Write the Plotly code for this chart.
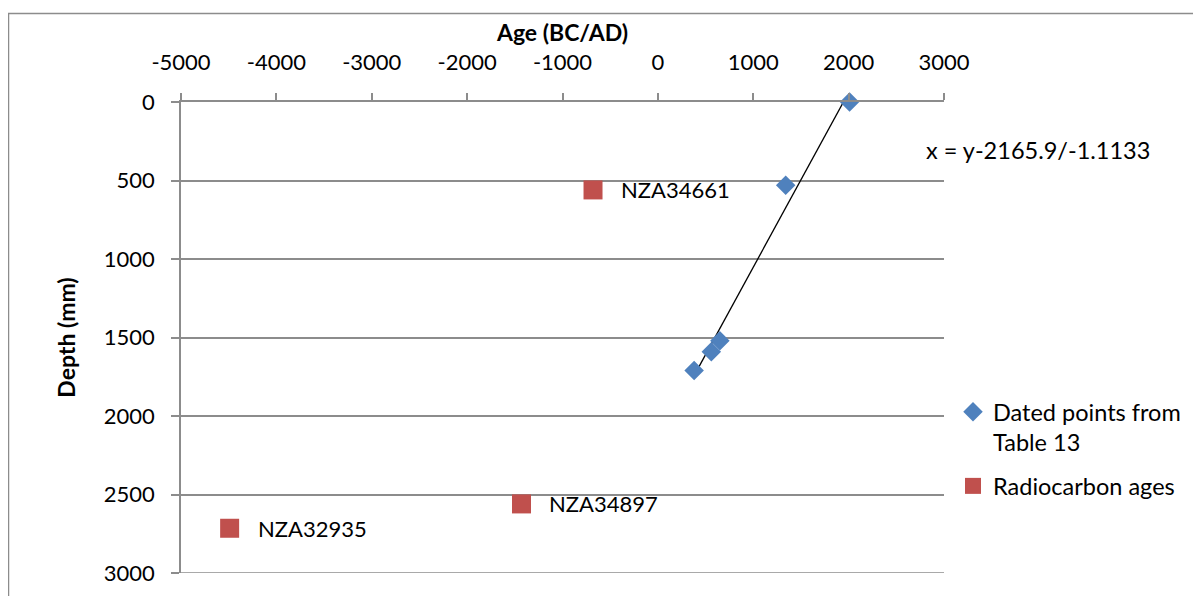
import plotly.graph_objects as go

# dated points (age BC/AD, depth mm)
dated_age = [2010, 1340, 650, 560, 380]
dated_depth = [0, 530, 1520, 1590, 1710]

# radiocarbon ages
rc_age = [-680, -1430, -4490]
rc_depth = [560, 2560, 2715]
rc_label = ["NZA34661", "NZA34897", "NZA32935"]

# trendline coefficients: depth = intercept + slope * age
intercept = 2165.9
slope = -1.1133

x_ticks = [-5000, -4000, -3000, -2000, -1000, 0, 1000, 2000, 3000]
y_ticks = [0, 500, 1000, 1500, 2000, 2500, 3000]

OFF = 8  # default body margin of the page
W, H = 1201 - OFF, 596 - OFF
L, R, T, B = 181 - OFF, 257, 102 - OFF, 23
pw, ph = W - L - R, H - T - B

# screen pixel -> paper coords
def px(x):
    return (x - OFF - L) / pw

def py(y):
    return (H + OFF - B - y) / ph

FONT = "Lato"
grey = "#8c8c8c"

fig = go.Figure()

tx = [min(dated_age), max(dated_age)]
fig.add_trace(go.Scatter(
    x=tx, y=[intercept + slope * a for a in tx],
    mode="lines", line=dict(color="black", width=1.3),
    showlegend=False, hoverinfo="skip"))

fig.add_trace(go.Scatter(
    x=dated_age, y=dated_depth, mode="markers",
    name="Dated points from<br>Table 13", legendgroup="dated",
    marker=dict(symbol="diamond", size=15, color="#4f81bd"),
    cliponaxis=False))

fig.add_trace(go.Scatter(
    x=rc_age, y=rc_depth, mode="markers",
    name="Radiocarbon ages", legendgroup="rc",
    marker=dict(symbol="square", size=19, color="#c0504d"),
    cliponaxis=False))

for a, d, t in zip(rc_age, rc_depth, rc_label):
    fig.add_annotation(x=a, y=d, text=t, showarrow=False, xanchor="left",
                       yanchor="middle", xshift=26,
                       font=dict(size=22, color="black", family=FONT))

fig.add_annotation(xref="paper", yref="paper", x=px(924), y=py(150),
                   text="x = y-2165.9/-1.1133", showarrow=False,
                   xanchor="left", yanchor="middle",
                   font=dict(size=23.5, color="black", family=FONT))

fig.add_shape(type="rect", xref="paper", yref="paper",
              x0=px(8.5), x1=px(1215), y0=py(13.5), y1=py(615),
              line=dict(color=grey, width=1.5))

# bottom gridline at 3000
fig.add_shape(type="line", xref="paper", yref="y", x0=0, x1=1,
              y0=y_ticks[-1], y1=y_ticks[-1], line=dict(color=grey, width=1.5))

fig.update_xaxes(
    side="top", range=[-5000, 3000], tickvals=x_ticks,
    ticktext=[str(v) for v in x_ticks], automargin=False,
    showgrid=False, zeroline=False, showline=True, linecolor=grey, linewidth=1.5,
    ticks="outside", ticklen=7, tickcolor=grey, tickwidth=1.5,
    ticklabelstandoff=14,
    tickfont=dict(size=22, color="black", family=FONT),
    title=dict(text="<b>Age (BC/AD)</b>", standoff=0,
               font=dict(size=23, color="black", family=FONT)))

fig.update_yaxes(
    range=[3000, 0], tickvals=y_ticks,
    ticktext=[str(v) for v in y_ticks], automargin=False,
    showgrid=True, gridcolor=grey, gridwidth=1.5, zeroline=False,
    showline=True, linecolor=grey, linewidth=1.5,
    ticks="outside", ticklen=8, tickcolor=grey, tickwidth=1.5,
    ticklabelstandoff=12,
    tickfont=dict(size=22, color="black", family=FONT),
    title=dict(text="<b>Depth (mm)</b>", standoff=22,
               font=dict(size=23, color="black", family=FONT)))

fig.update_layout(
    width=W, height=H,
    margin=dict(l=L, r=R, t=T, b=B),
    plot_bgcolor="white", paper_bgcolor="white",
    font=dict(family=FONT, color="black"),
    legend=dict(x=px(953), y=py(390), xanchor="left", yanchor="top",
                font=dict(size=23.5, color="black", family=FONT),
                valign="top", itemwidth=30, tracegroupgap=10,
                bgcolor="rgba(0,0,0,0)"),
)

fig.write_html("out.html")
